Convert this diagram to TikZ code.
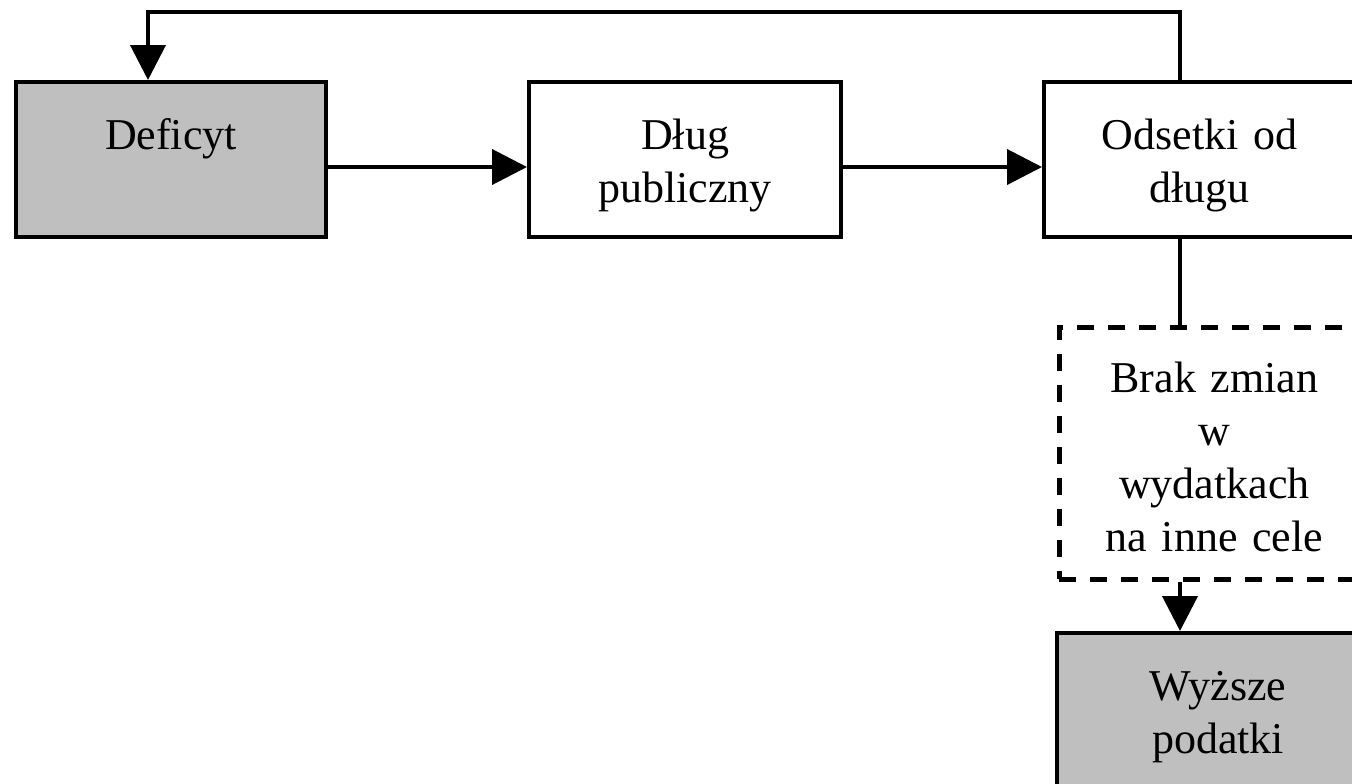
\documentclass[tikz,border=0pt]{standalone}
\usepackage{fontspec}
\setmainfont{Liberation Serif}
\usetikzlibrary{arrows.meta}
\begin{document}
\begin{tikzpicture}[x=0.5pt, y=-0.5pt,
    box/.style={draw, line width=2pt, inner sep=0pt, align=center,
        text width=155pt, text height=33.5pt, text depth=44pt,
        anchor=north west, font=\fontsize{22}{26.5}\selectfont},
    shaded/.style={box, fill=black!25},
    link/.style={line width=2pt},
    arr/.style={link, -{Triangle[length=17.5pt, width=17.5pt]}}]
    \useasboundingbox (0,0) rectangle (1352,783);
    \clip (0,0) rectangle (1352,783);
    % boxes
    \node[shaded] (deficyt) at (14,80) {Deficyt};
    \node[box, text width=156pt] (dlug) at (527,80) {Dług\\publiczny};
    \node[box, text width=155.5pt] (odsetki) at (1042,80) {Odsetki od\\długu};
    \node[box, line width=2.4pt, dash pattern=on 8.5pt off 7pt,
        text height=32.5pt, text depth=93.5pt]
        (brak) at (1057,325) {Brak zmian\\w\\wydatkach\\na inne cele};
    \node[shaded, text width=161pt] (podatki) at (1055,631) {Wyższe\\podatki};
    \coordinate (col) at (1180,0);
    \coordinate (top) at (148,12);
    % connectors
    \draw[arr] ([yshift=-3.75pt]deficyt.east) -- ([yshift=-3.75pt]dlug.west);
    \draw[arr] ([yshift=-3.75pt]dlug.east) -- ([yshift=-3.75pt]odsetki.west);
    \draw[arr] (odsetki.north -| col) |- (top) -- (top |- deficyt.north);
    \draw[link] (odsetki.south -| col) -- (brak.north -| col);
    \draw[arr] (brak.south -| col) -- (podatki.north -| col);
\end{tikzpicture}
\end{document}
